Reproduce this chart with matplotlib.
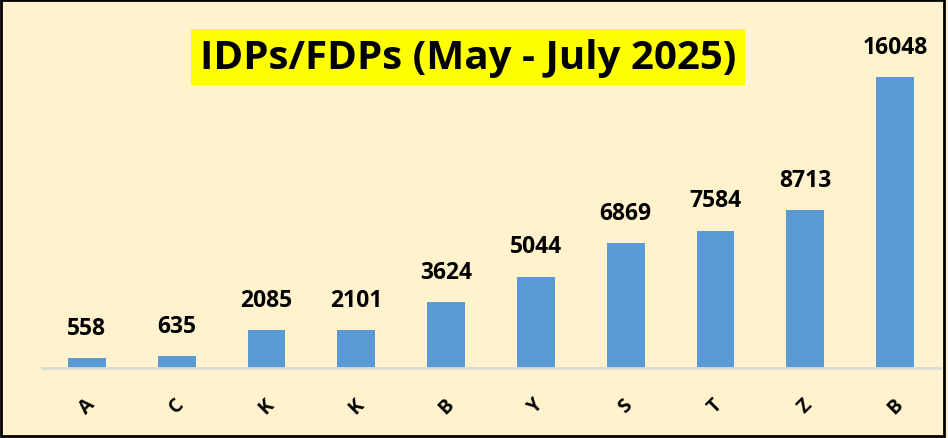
import matplotlib
matplotlib.use("Agg")
from matplotlib import pyplot as plt
import matplotlib.patches as patches

categories = ['A', 'C', 'K', 'K', 'B', 'Y', 'S', 'T', 'Z', 'B']
values = [558, 635, 2085, 2101, 3624, 5044, 6869, 7584, 8713, 16048]

bg = '#FFF2CC'
bar_color = '#5B9BD5'

fig = plt.figure(figsize=(9.48, 4.39), dpi=100, facecolor=bg)
ax = fig.add_axes([42 / 948, 70 / 439, 898 / 948, 349 / 439])
ax.set_facecolor(bg)

x = range(len(categories))
bars = ax.bar(x, values, width=0.42, color=bar_color, zorder=2)

for b, v in zip(bars, values):
    ax.annotate(str(v), (b.get_x() + b.get_width() / 2, v), xytext=(0, 13),
                textcoords='offset points', ha='center', va='bottom',
                fontsize=16.5, fontweight='bold', family='Open Sans')

ax.set_xlim(-0.5, len(categories) - 0.5)
ax.set_ylim(0, 19250)
ax.set_xticks(list(x))
ax.set_xticklabels(categories, rotation=45, fontsize=14, fontweight='bold',
                   family='Open Sans', ha='center', va='center')
ax.tick_params(axis='x', length=0, pad=27)
ax.set_yticks([])
for s in ['top', 'right', 'left']:
    ax.spines[s].set_visible(False)
ax.spines['bottom'].set_color('#D9D9D9')
ax.spines['bottom'].set_linewidth(2)

fig.text(468 / 948, 1 - 58 / 439, 'IDPs/FDPs (May - July 2025)', ha='center', va='center',
         fontsize=29, fontweight='bold', family='Open Sans',
         bbox=dict(facecolor='#FFFF00', edgecolor='none', pad=6))

frame = patches.Rectangle((0.001, 0.004), 0.995, 0.993, transform=fig.transFigure,
                          fill=False, edgecolor='black', linewidth=2)
fig.patches.append(frame)

fig.savefig('out.png', dpi=100, facecolor=bg)
